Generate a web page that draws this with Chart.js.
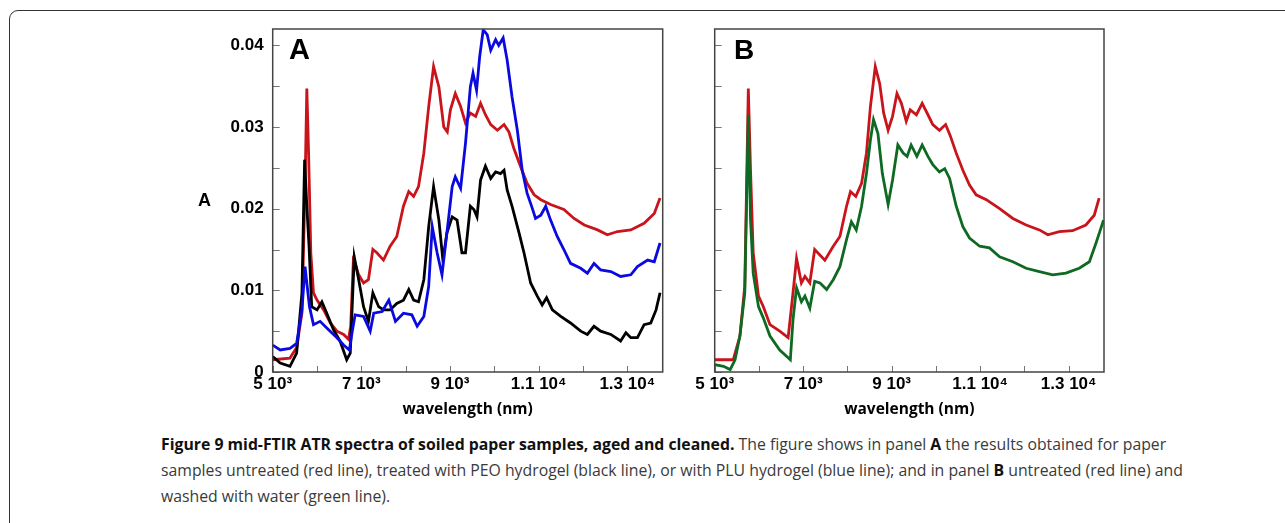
<!DOCTYPE html>
<html>
<head>
<meta charset="utf-8">
<script src="https://cdn.jsdelivr.net/npm/chart.js"></script>
<style>
  body { margin: 0; background: #fff; width: 1285px; height: 523px; overflow: hidden; position: relative; }
  #frame { position: absolute; left: 9px; top: 10px; width: 1300px; height: 540px; border: 1.5px solid #333; border-radius: 9px; box-sizing: border-box; }
  canvas { position: absolute; }
  .lbl { position: absolute; font-family: "Liberation Sans", Arial, sans-serif; font-weight: bold; color: #000; }
  #caption { position: absolute; left: 161px; top: 431px; font-family: "Open Sans", sans-serif; font-size: 15.8px; line-height: 26px; color: #3a3a3a; white-space: nowrap; }
  #caption b { color: #111; }
</style>
</head>
<body>
<div id="frame"></div>
<div style="position:absolute;left:190px;top:20px;width:480px;height:400px"><canvas id="chartA"></canvas></div>
<div style="position:absolute;left:680px;top:20px;width:440px;height:400px"><canvas id="chartB"></canvas></div>
<div class="lbl" style="left:198px;top:190px;font-size:18px">A</div>
<div class="lbl" style="left:289px;top:33px;font-size:29px">A</div>
<div class="lbl" style="left:734px;top:34px;font-size:28px">B</div>
<div id="caption"><b>Figure 9 mid-FTIR ATR spectra of soiled paper samples, aged and cleaned.</b> The figure shows in panel <b>A</b> the results obtained for paper<br>samples untreated (red line), treated with PEO hydrogel (black line), or with PLU hydrogel (blue line); and in panel <b>B</b> untreated (red line) and<br>washed with water (green line).</div>
<script>
  // axis ticks
  const xTicks = [5000, 6000, 7000, 8000, 9000, 10000, 11000, 12000, 13000];
  const xTickLabels = ["5 10³", "", "7 10³", "", "9 10³", "", "1.1 10⁴", "", "1.3 10⁴"];
  const yTicks = [0, 0.005, 0.01, 0.015, 0.02, 0.025, 0.03, 0.035, 0.04];
  const yTickLabels = ["0", "", "0.01", "", "0.02", "", "0.03", "", "0.04"];

  // panel A - untreated (red)
  const waveRedA = [5000,5390,5540,5660,5730,5770,5810,5860,5920,6000,6150,6300,6450,6600,6710,6760,6820,6860,6940,7050,7160,7260,7350,7500,7650,7800,7950,8070,8180,8290,8410,8520,8630,8750,8860,8940,9010,9120,9240,9350,9460,9580,9690,9800,9920,10070,10220,10330,10440,10590,10740,10900,11050,11270,11570,11800,12030,12330,12550,12780,13080,13380,13610,13740];
  const absRedA = [0.0015,0.0017,0.0030,0.0072,0.0227,0.0347,0.0268,0.0146,0.0097,0.0088,0.0076,0.0060,0.0050,0.0046,0.0040,0.0056,0.0137,0.0133,0.0119,0.0109,0.0113,0.0150,0.0146,0.0137,0.0154,0.0166,0.0203,0.0221,0.0215,0.0227,0.0268,0.0325,0.0374,0.0349,0.0300,0.0294,0.0321,0.0341,0.0325,0.0305,0.0317,0.0313,0.0329,0.0315,0.0303,0.0296,0.0303,0.0294,0.0274,0.0252,0.0231,0.0217,0.0211,0.0205,0.0199,0.0188,0.0180,0.0174,0.0168,0.0172,0.0174,0.0182,0.0194,0.0213];

  // panel A - PLU hydrogel (blue)
  const waveBlueA = [5000,5170,5390,5540,5660,5730,5770,5830,5920,6070,6220,6450,6600,6730,6790,6860,7050,7200,7280,7470,7620,7770,7950,8140,8260,8410,8520,8600,8710,8820,8930,9050,9120,9240,9350,9460,9520,9600,9670,9750,9840,9920,10030,10100,10200,10290,10400,10520,10630,10740,10860,10930,11050,11160,11270,11420,11570,11720,11950,12100,12250,12400,12630,12850,13080,13230,13460,13610,13740];
  const absBlueA = [0.0033,0.0027,0.0029,0.0035,0.0076,0.0129,0.0109,0.0080,0.0058,0.0062,0.0054,0.0042,0.0033,0.0027,0.0048,0.0070,0.0068,0.0050,0.0072,0.0074,0.0088,0.0062,0.0072,0.0070,0.0056,0.0068,0.0105,0.0178,0.0146,0.0119,0.0170,0.0227,0.0239,0.0225,0.0280,0.0349,0.0366,0.0345,0.0386,0.0419,0.0413,0.0394,0.0407,0.0400,0.0409,0.0382,0.0337,0.0296,0.0247,0.0219,0.0200,0.0188,0.0192,0.0203,0.0186,0.0166,0.0150,0.0133,0.0127,0.0121,0.0133,0.0125,0.0123,0.0117,0.0119,0.0129,0.0137,0.0135,0.0158];

  // panel A - PEO hydrogel (black)
  const waveBlackA = [5000,5170,5390,5540,5660,5720,5770,5820,5880,6000,6110,6220,6370,6520,6670,6750,6840,6940,7050,7160,7260,7390,7500,7650,7800,7950,8070,8180,8290,8410,8520,8630,8750,8840,8930,9050,9160,9270,9350,9460,9540,9610,9690,9800,9920,10030,10140,10220,10290,10400,10560,10670,10820,10970,11080,11180,11310,11500,11720,11950,12100,12250,12400,12630,12850,12970,13080,13230,13380,13530,13650,13740];
  const absBlackA = [0.0019,0.0011,0.0007,0.0023,0.0097,0.0260,0.0203,0.0154,0.0080,0.0076,0.0086,0.0072,0.0052,0.0038,0.0015,0.0023,0.0141,0.0113,0.0080,0.0062,0.0097,0.0080,0.0076,0.0076,0.0084,0.0088,0.0101,0.0088,0.0086,0.0113,0.0178,0.0227,0.0186,0.0137,0.0170,0.0190,0.0186,0.0146,0.0146,0.0203,0.0199,0.0190,0.0235,0.0252,0.0237,0.0245,0.0243,0.0247,0.0223,0.0203,0.0170,0.0146,0.0109,0.0093,0.0082,0.0091,0.0076,0.0068,0.0060,0.0050,0.0046,0.0056,0.0050,0.0046,0.0038,0.0048,0.0042,0.0042,0.0058,0.0060,0.0076,0.0097];

  // panel B - untreated (red)
  const waveRedB = [5000,5420,5570,5680,5760,5810,5870,5990,6100,6250,6470,6660,6770,6850,6960,7040,7150,7260,7490,7680,7830,7980,8070,8190,8320,8430,8520,8630,8730,8820,8920,9020,9120,9220,9330,9420,9560,9690,9820,9930,10080,10220,10320,10460,10610,10760,10910,11140,11440,11740,12040,12340,12530,12790,13090,13390,13580,13690];
  const absRedB = [0.0015,0.0015,0.0044,0.0105,0.0347,0.0247,0.0146,0.0093,0.0080,0.0058,0.0050,0.0042,0.0097,0.0139,0.0109,0.0117,0.0109,0.0150,0.0137,0.0154,0.0166,0.0203,0.0221,0.0215,0.0231,0.0268,0.0325,0.0374,0.0353,0.0317,0.0296,0.0313,0.0341,0.0329,0.0307,0.0321,0.0315,0.0329,0.0315,0.0303,0.0296,0.0303,0.0290,0.0268,0.0247,0.0229,0.0217,0.0211,0.0200,0.0188,0.0180,0.0174,0.0168,0.0172,0.0173,0.0180,0.0192,0.0213];

  // panel B - washed with water (green)
  const waveGreenB = [5000,5200,5350,5460,5570,5680,5760,5810,5870,5990,6100,6250,6470,6710,6770,6850,6960,7040,7150,7260,7380,7530,7680,7830,7980,8090,8200,8320,8430,8520,8590,8690,8790,8920,9020,9140,9260,9350,9440,9570,9690,9820,9930,10080,10200,10310,10460,10610,10760,10990,11210,11440,11740,12040,12340,12640,12940,13240,13470,13620,13790];
  const absGreenB = [0.0009,0.0007,0.0003,0.0015,0.0044,0.0097,0.0315,0.0186,0.0121,0.0080,0.0066,0.0044,0.0027,0.0015,0.0064,0.0103,0.0086,0.0093,0.0078,0.0111,0.0109,0.0101,0.0113,0.0129,0.0162,0.0184,0.0174,0.0203,0.0243,0.0284,0.0309,0.0292,0.0243,0.0205,0.0235,0.0278,0.0268,0.0264,0.0278,0.0264,0.0278,0.0264,0.0254,0.0245,0.0249,0.0237,0.0203,0.0178,0.0164,0.0154,0.0152,0.0141,0.0135,0.0127,0.0123,0.0119,0.0121,0.0127,0.0135,0.0158,0.0186];

  const toPoints = (xs, ys) => xs.map((x, i) => ({ x: x, y: ys[i] }));

  // inner tick marks + plot frame
  const frameTicks = {
    id: "frameTicks",
    afterDatasetsDraw(chart) {
      const { ctx, chartArea: a, scales: { x, y } } = chart;
      ctx.save();
      ctx.strokeStyle = "#777";
      ctx.lineWidth = 1;
      ctx.beginPath();
      xTicks.forEach((v) => {
        const px = Math.round(x.getPixelForValue(v)) + 0.5;
        ctx.moveTo(px, a.bottom);
        ctx.lineTo(px, a.bottom - 6);
      });
      yTicks.forEach((v) => {
        const py = Math.round(y.getPixelForValue(v)) + 0.5;
        ctx.moveTo(a.left, py);
        ctx.lineTo(a.left + 7, py);
      });
      ctx.stroke();
      ctx.strokeStyle = "#444";
      ctx.lineWidth = 1.5;
      ctx.strokeRect(a.left, a.top, a.width, a.height);
      ctx.restore();
    },
  };

  const tickFont = { family: "'Liberation Sans', Arial, sans-serif", size: 17, weight: "bold" };

  function makeChart(id, datasets, yWidth, rightPad, showYLabels) {
    return new Chart(document.getElementById(id), {
      type: "line",
      data: { datasets: datasets },
      plugins: [frameTicks],
      options: {
        responsive: true,
        maintainAspectRatio: false,
        animation: false,
        layout: { padding: { top: 9, right: rightPad, left: 0, bottom: 0 } },
        elements: { point: { radius: 0 }, line: { borderWidth: 2.8, tension: 0 } },
        plugins: { legend: { display: false }, tooltip: { enabled: false } },
        scales: {
          x: {
            type: "linear",
            min: 5000,
            max: 13800,
            grid: { display: false, drawTicks: false },
            border: { display: false },
            afterBuildTicks: (s) => { s.ticks = xTicks.map((v) => ({ value: v })); },
            afterFit: (s) => { s.height = 48; s.paddingLeft = 0; s.paddingRight = 0; },
            ticks: {
              autoSkip: false,
              maxRotation: 0,
              padding: 2,
              color: "#000",
              font: tickFont,
              callback: (v, i) => xTickLabels[i],
            },
            title: {
              display: true,
              text: "wavelength (nm)",
              color: "#000",
              font: { family: "'Open Sans', sans-serif", size: 15.5, weight: "bold" },
              padding: { top: 0, bottom: 1 },
            },
          },
          y: {
            min: 0,
            max: 0.042,
            grid: { display: false, drawTicks: false },
            border: { display: false },
            afterBuildTicks: (s) => { s.ticks = yTicks.map((v) => ({ value: v })); },
            afterFit: (s) => { s.width = yWidth; s.paddingTop = 0; s.paddingBottom = 0; },
            ticks: {
              display: showYLabels,
              autoSkip: false,
              padding: 9,
              color: "#000",
              font: tickFont,
              callback: (v, i) => yTickLabels[i],
            },
          },
        },
      },
    });
  }

  makeChart("chartA", [
    { label: "PLU hydrogel", data: toPoints(waveBlueA, absBlueA), borderColor: "#0a0ae0" },
    { label: "PEO hydrogel", data: toPoints(waveBlackA, absBlackA), borderColor: "#000000" },
    { label: "untreated", data: toPoints(waveRedA, absRedA), borderColor: "#c8141a" },
  ], 82.7, 7.3, true);

  makeChart("chartB", [
    { label: "washed with water", data: toPoints(waveGreenB, absGreenB), borderColor: "#0e6a22" },
    { label: "untreated", data: toPoints(waveRedB, absRedB), borderColor: "#c8141a" },
  ], 34.7, 16, false);
</script>
</body>
</html>
